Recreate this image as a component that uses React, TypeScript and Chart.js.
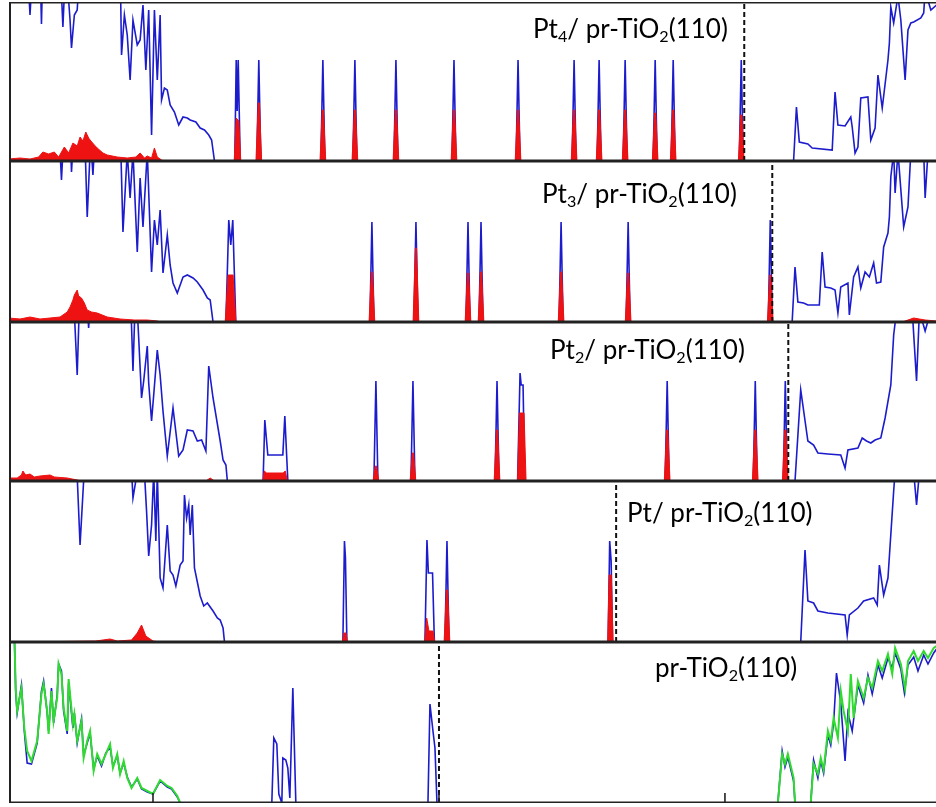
import React, { useEffect, useRef } from "react";
import { Chart, registerables } from "chart.js";

Chart.register(...registerables);

// ---------- axis ----------
const X_MIN = -3.007;
const X_MAX = 3.476;
const X_TICKS = [-2, 0, 2];

// ---------- Pt4 / pr-TiO2(110) ----------
const PT4_TOTAL_VB = [[-3.01,20],[-2.88,20],[-2.86,14.6],[-2.84,20],[-2.79,20],[-2.78,13.7],[-2.77,20],[-2.65,20],[-2.63,13.4],[-2.61,20],[-2.58,14.1],[-2.57,11.3],[-2.55,14.6],[-2.53,15.1],[-2.51,20],[-2.23,20],[-2.22,10.6],[-2.20,14.6],[-2.18,12.6],[-2.16,8.1],[-2.14,14.1],[-2.11,11.6],[-2.09,12.1],[-2.07,15.6],[-2.05,9.1],[-2.03,15.1],[-2.01,2.6],[-1.99,15.1],[-1.97,8.1],[-1.95,14.6],[-1.94,6.1],[-1.92,7.3],[-1.90,7.1],[-1.88,5.6],[-1.85,4.9],[-1.82,3.6],[-1.79,4.4],[-1.76,4.3],[-1.74,4.1],[-1.70,3.9],[-1.67,3.3],[-1.64,3.1],[-1.61,2.6],[-1.59,2.1],[-1.57,0]];
const PT4_TOTAL_GAP_EXTRA = [[-1.428,0],[-1.418,10.1],[-1.411,5.0],[-1.404,10.1],[-1.390,0]];
const PT4_TOTAL_CB = [[2.47,0],[2.48,0],[2.50,5.4],[2.52,1.9],[2.58,1.7],[2.61,1.3],[2.75,1.1],[2.77,6.9],[2.79,3.6],[2.84,3.5],[2.88,4.4],[2.89,3.4],[2.91,0.8],[2.93,1.4],[2.95,6.3],[3.00,6.4],[3.02,2.1],[3.05,3.3],[3.07,8.6],[3.10,5.3],[3.14,10.1],[3.15,11.8],[3.16,15.4],[3.18,13.8],[3.21,16.5],[3.23,14.1],[3.26,8.1],[3.28,13.1],[3.30,13.8],[3.32,13.9],[3.37,14.3],[3.39,14.8],[3.40,17],[3.44,15.1],[3.48,15.6]];
const PT4_PT_VB = [[-3.01,0.2],[-2.93,0.3],[-2.86,0.2],[-2.80,0.4],[-2.77,0.9],[-2.73,0.7],[-2.69,0.9],[-2.66,0.4],[-2.62,1.4],[-2.59,0.8],[-2.56,1.8],[-2.53,1.5],[-2.51,2.4],[-2.49,2.0],[-2.47,2.9],[-2.45,2.3],[-2.44,2.1],[-2.41,1.6],[-2.39,1.3],[-2.35,0.8],[-2.32,0.6],[-2.25,0.4],[-2.18,0.3],[-2.12,0.4],[-2.09,0.8],[-2.06,0.3],[-2.04,0.5],[-2.01,0.3],[-1.99,1.3],[-1.97,0.4],[-1.94,0.1],[-1.92,0]];
const PT4_PT_GAP_EXTRA = [[-1.432,0],[-1.418,4.3],[-1.400,4.0],[-1.386,0]];
// gap peaks: [energy, total DOS, Pt DOS]
const PT4_GAP_PEAKS = [[-1.260,10.1,5.8],[-0.812,10.1,5.1],[-0.588,10.1,5.1],[-0.301,10.1,5.1],[0.105,10.1,5.1],[0.553,10.1,5.1],[0.945,10.1,5.1],[1.120,10.1,5.1],[1.302,10.1,5.1],[1.512,10.1,4.8],[1.638,10.1,5.1],[2.114,10.1,4.6]];
const PT4_FERMI = 2.135;

// ---------- Pt3 / pr-TiO2(110) ----------
const PT3_TOTAL_VB = [[-3.01,20],[-2.66,20],[-2.64,14.2],[-2.62,20],[-2.58,20],[-2.57,15.0],[-2.55,20],[-2.48,20],[-2.46,10.5],[-2.44,17],[-2.43,17],[-2.42,14.7],[-2.40,20],[-2.23,20],[-2.21,9.0],[-2.18,17],[-2.16,12.4],[-2.14,17],[-2.11,7.0],[-2.09,14.4],[-2.07,9.5],[-2.04,17],[-2.01,5.0],[-1.99,10.2],[-1.97,7.7],[-1.95,11.2],[-1.93,4.9],[-1.90,8.7],[-1.88,5.7],[-1.86,3.9],[-1.83,2.9],[-1.79,4.5],[-1.76,4.7],[-1.72,4.4],[-1.69,4.0],[-1.65,3.2],[-1.62,2.4],[-1.60,2.2],[-1.58,0]];
const PT3_TOTAL_GAP_EXTRA = [[-1.490,0],[-1.470,10.2],[-1.456,7.7],[-1.442,10.2],[-1.421,0]];
const PT3_TOTAL_CB = [[2.46,0],[2.47,0],[2.49,5.5],[2.51,2.0],[2.55,1.9],[2.58,1.7],[2.66,1.7],[2.68,7.0],[2.70,3.5],[2.74,3.4],[2.77,3.2],[2.79,0.9],[2.81,3.5],[2.86,3.9],[2.87,0.7],[2.90,4.5],[2.93,5.5],[2.95,3.4],[2.98,5.0],[3.01,4.5],[3.04,5.9],[3.06,3.9],[3.09,4.0],[3.11,7.5],[3.14,8.9],[3.15,10.5],[3.16,14.5],[3.18,17],[3.19,12.9],[3.21,17],[3.25,9.5],[3.28,11.5],[3.30,17],[3.39,17],[3.40,12.4],[3.42,17],[3.48,17]];
const PT3_PT_VB = [[-3.01,0.4],[-2.93,0.3],[-2.86,0.5],[-2.79,0.3],[-2.72,0.4],[-2.65,0.5],[-2.60,1.0],[-2.58,1.5],[-2.56,2.2],[-2.55,2.7],[-2.53,3.2],[-2.52,2.6],[-2.50,2.4],[-2.48,1.9],[-2.46,1.2],[-2.43,1.0],[-2.39,0.9],[-2.32,0.5],[-2.23,0.3],[-2.13,0.2],[-2.04,0.2],[-1.97,0.1],[-1.95,0]];
const PT3_PT_GAP_EXTRA = [[-1.495,0],[-1.475,4.7],[-1.440,4.7],[-1.420,0]];
const PT3_PT_CB = [[3.24,0],[3.28,0.2],[3.32,0.4],[3.36,0.3],[3.40,0.2],[3.48,0.1]];
const PT3_GAP_PEAKS = [[-0.469,10.0,5.0],[-0.161,10.0,7.4],[0.203,10.0,4.9],[0.294,10.0,5.0],[0.854,10.0,5.0],[1.323,10.0,4.9],[2.317,10.2,4.7]];
const PT3_FERMI = 2.331;

// ---------- Pt2 / pr-TiO2(110) ----------
const PT2_TOTAL_VB = [[-3.01,20],[-2.56,20],[-2.53,10.6],[-2.51,20],[-2.47,20],[-2.45,15.3],[-2.43,20],[-2.16,20],[-2.14,11.0],[-2.12,20],[-2.10,14.3],[-2.08,8.3],[-2.065,10.0],[-2.04,13.5],[-2.03,9.8],[-2.01,6.0],[-1.995,8.6],[-1.97,13.1],[-1.95,10.6],[-1.93,7.0],[-1.90,2.5],[-1.86,7.3],[-1.82,2.5],[-1.79,3.1],[-1.76,5.1],[-1.72,5.0],[-1.69,4.0],[-1.66,4.1],[-1.63,3.0],[-1.61,11.5],[-1.58,8.3],[-1.53,4.0],[-1.51,2.1],[-1.49,1.6],[-1.48,0]];
const PT2_TOTAL_GAP_EXTRA = [[-1.230,0],[-1.218,6.1],[-1.197,2.6],[-1.092,2.6],[-1.078,6.5],[-1.057,0],[0.550,0],[0.567,10.8],[0.575,9.6],[0.588,9.6],[0.600,0]];
const PT2_TOTAL_CB = [[2.48,0],[2.49,0],[2.53,9.1],[2.58,4.0],[2.62,3.6],[2.65,2.8],[2.72,2.7],[2.81,2.6],[2.84,1.3],[2.86,3.1],[2.93,3.3],[2.96,4.3],[2.99,4.0],[3.02,3.8],[3.05,4.1],[3.09,4.3],[3.12,6.3],[3.16,9.6],[3.18,14.6],[3.20,17],[3.31,17],[3.34,10.0],[3.36,17],[3.40,15.0],[3.44,17],[3.48,17]];
const PT2_PT_VB = [[-3.01,0.3],[-2.95,0.3],[-2.92,0.6],[-2.91,1.0],[-2.89,0.6],[-2.86,0.7],[-2.83,0.4],[-2.79,0.5],[-2.72,0.6],[-2.69,0.4],[-2.60,0.3],[-2.53,0.1],[-2.50,0],[-1.63,0],[-1.60,0.3],[-1.57,0]];
const PT2_PT_GAP_EXTRA = [[-1.232,0],[-1.222,1.0],[-1.205,0.8],[-1.090,0.8],[-1.075,1.0],[-1.060,0],[0.549,0],[0.563,6.8],[0.595,6.8],[0.609,0]];
const PT2_GAP_PEAKS = [[-0.441,10.0,1.5],[-0.182,10.0,2.8],[0.406,10.0,5.1],[1.596,10.0,5.1],[2.212,10.0,5.1],[2.422,10.0,5.1]];
const PT2_FERMI = 2.443;

// ---------- Pt / pr-TiO2(110) ----------
const PT1_TOTAL_VB = [[-3.01,20],[-2.54,20],[-2.51,9.7],[-2.47,20],[-2.16,20],[-2.14,14.4],[-2.11,17],[-2.06,17],[-2.045,13.1],[-2.03,8.6],[-2.01,11.7],[-1.995,17],[-1.98,10.1],[-1.97,17],[-1.95,6.4],[-1.93,5.4],[-1.90,11.7],[-1.88,7.1],[-1.86,6.7],[-1.84,5.6],[-1.81,7.7],[-1.79,8.1],[-1.78,14.7],[-1.765,12.4],[-1.75,13.7],[-1.74,10.7],[-1.725,13.7],[-1.71,7.4],[-1.67,4.6],[-1.645,3.6],[-1.62,3.9],[-1.58,3.1],[-1.55,2.4],[-1.53,2.2],[-1.51,1.4],[-1.50,0]];
const PT1_TOTAL_GAP_EXTRA = [[-0.672,0],[-0.661,10.1],[-0.654,8.4],[-0.644,0],[-0.098,0],[-0.084,10.2],[-0.074,6.9],[-0.045,6.9],[-0.032,0],[1.183,0],[1.194,10.1],[1.204,8.1],[1.214,0]];
const PT1_TOTAL_CB = [[2.52,0],[2.53,0],[2.56,9.2],[2.58,4.1],[2.62,3.9],[2.65,3.1],[2.72,2.9],[2.84,2.7],[2.855,0.7],[2.87,2.7],[2.93,3.4],[2.97,4.1],[3.04,4.4],[3.065,3.7],[3.08,7.7],[3.11,4.7],[3.14,6.4],[3.18,15.1],[3.19,17],[3.32,17],[3.34,13.7],[3.36,17],[3.48,17]];
const PT1_PT_VB = [[-3.01,0],[-2.65,0.05],[-2.40,0.1],[-2.30,0.3],[-2.25,0.1],[-2.15,0.2],[-2.11,0.9],[-2.08,1.7],[-2.05,0.6],[-2.00,0.1],[-1.95,0]];
const PT1_PT_GAP_EXTRA = [[-0.675,0],[-0.665,0.9],[-0.650,0.9],[-0.640,0],[-0.100,0],[-0.086,2.4],[-0.070,1.1],[-0.042,1.1],[-0.030,0],[1.180,0],[1.190,6.7],[1.205,6.7],[1.218,0]];
const PT1_GAP_PEAKS = [[0.056,10.1,5.2]];
const PT1_FERMI = 1.239;

// ---------- pr-TiO2(110) ----------
const TIO2_BLUE_VB = [[-3.01,15.8],[-2.97,17],[-2.96,11.0],[-2.95,9.0],[-2.92,11.8],[-2.90,7.2],[-2.88,4.0],[-2.85,3.9],[-2.81,6.0],[-2.78,11.2],[-2.765,12.2],[-2.74,9.0],[-2.73,7.2],[-2.71,11.5],[-2.695,8.0],[-2.67,10.8],[-2.66,13.9],[-2.64,13.2],[-2.625,9.2],[-2.60,6.9],[-2.59,12.0],[-2.56,7.5],[-2.55,9.0],[-2.53,6.0],[-2.50,8.4],[-2.485,4.8],[-2.46,6.0],[-2.44,7.0],[-2.415,3.4],[-2.39,4.7],[-2.36,3.7],[-2.33,5.0],[-2.30,5.6],[-2.28,3.7],[-2.25,4.7],[-2.23,3.0],[-2.205,4.0],[-2.18,2.6],[-2.15,1.6],[-2.11,2.4],[-2.08,1.4],[-2.04,1.1],[-2.00,0.9],[-1.95,2.2],[-1.90,1.6],[-1.87,1.4],[-1.83,0.6],[-1.81,0]];
const TIO2_BLUE_GAP = [[-1.169,0],[-1.155,6.5],[-1.134,5.9],[-1.120,0.9],[-1.099,0],[-1.092,4.5],[-1.071,4.3],[-1.057,3.5],[-1.043,0.5],[-1.022,11.5],[-1.001,0],[-0.077,0],[-0.063,9.9],[-0.042,7.2],[-0.028,5.5],[-0.014,0]];
const TIO2_BLUE_CB = [[2.37,0],[2.40,5.2],[2.42,3.6],[2.44,4.6],[2.48,2.2],[2.49,0],[2.60,0],[2.62,4.3],[2.65,2.5],[2.67,4.2],[2.69,3.0],[2.72,6.8],[2.74,5.8],[2.76,8.0],[2.78,13.0],[2.81,10.0],[2.84,4.2],[2.86,9.0],[2.89,7.2],[2.93,11.8],[2.97,10.0],[3.00,12.8],[3.03,10.9],[3.07,13.8],[3.10,12.5],[3.14,14.5],[3.17,13.5],[3.19,15.0],[3.23,13.4],[3.255,11.0],[3.28,13.8],[3.32,14.6],[3.35,13.2],[3.39,14.8],[3.42,13.9],[3.46,15.0],[3.48,15.4]];
const TIO2_GREEN_VB = [[-3.01,15.5],[-2.97,17],[-2.96,11.5],[-2.95,9.2],[-2.92,11.5],[-2.90,7.5],[-2.88,5.2],[-2.85,4.2],[-2.81,6.2],[-2.78,10.9],[-2.765,11.9],[-2.74,9.2],[-2.73,6.9],[-2.71,11.2],[-2.695,8.2],[-2.67,10.5],[-2.66,13.9],[-2.64,12.9],[-2.625,9.5],[-2.60,7.2],[-2.59,12.4],[-2.56,7.9],[-2.55,8.9],[-2.53,6.2],[-2.50,8.2],[-2.485,4.5],[-2.46,6.2],[-2.44,7.2],[-2.415,3.2],[-2.39,4.9],[-2.36,3.9],[-2.33,4.9],[-2.30,5.9],[-2.28,3.5],[-2.25,4.9],[-2.23,2.9],[-2.205,4.2],[-2.18,2.5],[-2.15,1.5],[-2.11,2.5],[-2.08,1.5],[-2.04,1.2],[-2.00,0.9],[-1.95,2.3],[-1.90,1.7],[-1.87,1.5],[-1.83,0.7],[-1.81,0]];
const TIO2_GREEN_CB = [[2.37,0],[2.40,4.9],[2.42,3.9],[2.44,4.9],[2.48,2.5],[2.49,0],[2.60,0],[2.62,3.9],[2.65,2.9],[2.67,4.5],[2.69,3.3],[2.72,7.2],[2.74,6.2],[2.76,8.5],[2.79,6.5],[2.81,11.2],[2.83,9.2],[2.86,7.2],[2.88,12.9],[2.90,8.5],[2.93,12.2],[2.97,10.5],[3.00,12.5],[3.03,11.5],[3.07,14.2],[3.10,13.2],[3.14,14.9],[3.17,12.9],[3.19,15.5],[3.23,13.9],[3.26,11.4],[3.28,14.2],[3.32,15.2],[3.35,14.2],[3.39,15.2],[3.42,14.5],[3.46,15.5],[3.48,15.7]];
const TIO2_FERMI = 0;

// ---------- layout / style ----------
const PANEL_TOPS = [2, 161, 322, 481, 642];
const PANEL_HEIGHTS = [159, 161, 159, 161, 161];
const CANVAS_LEFT = 9;
const CANVAS_WIDTH = 927;
const BLUE = "rgb(28,28,205)";
const RED = "rgb(238,18,18)";
const GREEN = "rgb(48,218,48)";
const FRAME = "#222";
const LABEL_FONT = "Lato, 'Open Sans', sans-serif";

type Pt = { x: number; y: number };
const toPts = (arr: number[][]): Pt[] => arr.map((a) => ({ x: a[0], y: a[1] }));
const peakTotal = (peaks: number[][]): Pt[] =>
  peaks.flatMap((p) => [{ x: p[0] - 0.014, y: 0 }, { x: p[0], y: p[1] }, { x: p[0] + 0.014, y: 0 }]);
const peakPt = (peaks: number[][]): Pt[] =>
  peaks.flatMap((p) => [
    { x: p[0] - 0.02, y: 0 },
    { x: p[0] - 0.004, y: p[2] },
    { x: p[0] + 0.004, y: p[2] },
    { x: p[0] + 0.02, y: 0 },
  ]);
const merge = (...parts: Pt[][]): Pt[] => parts.flat().sort((a, b) => a.x - b.x);

type PanelDef = {
  total: Pt[];
  pt?: Pt[];
  green?: Pt[];
  fermi: number;
  label: React.ReactNode;
  labelLeft: number;
  labelTop: number;
};

const Sub = ({ c }: { c: string }) => (
  <span style={{ fontSize: "0.62em", position: "relative", top: "0.22em" }}>{c}</span>
);

const PANELS: PanelDef[] = [
  {
    total: merge(toPts(PT4_TOTAL_VB), toPts(PT4_TOTAL_GAP_EXTRA), peakTotal(PT4_GAP_PEAKS), toPts(PT4_TOTAL_CB)),
    pt: merge(toPts(PT4_PT_VB), toPts(PT4_PT_GAP_EXTRA), peakPt(PT4_GAP_PEAKS)),
    fermi: PT4_FERMI,
    label: (<>Pt<Sub c="4" />/ pr-TiO<Sub c="2" />(110)</>),
    labelLeft: 533,
    labelTop: 15,
  },
  {
    total: merge(toPts(PT3_TOTAL_VB), toPts(PT3_TOTAL_GAP_EXTRA), peakTotal(PT3_GAP_PEAKS), toPts(PT3_TOTAL_CB)),
    pt: merge(toPts(PT3_PT_VB), toPts(PT3_PT_GAP_EXTRA), peakPt(PT3_GAP_PEAKS), toPts(PT3_PT_CB)),
    fermi: PT3_FERMI,
    label: (<>Pt<Sub c="3" />/ pr-TiO<Sub c="2" />(110)</>),
    labelLeft: 542,
    labelTop: 180,
  },
  {
    total: merge(toPts(PT2_TOTAL_VB), toPts(PT2_TOTAL_GAP_EXTRA), peakTotal(PT2_GAP_PEAKS), toPts(PT2_TOTAL_CB)),
    pt: merge(toPts(PT2_PT_VB), toPts(PT2_PT_GAP_EXTRA), peakPt(PT2_GAP_PEAKS)),
    fermi: PT2_FERMI,
    label: (<>Pt<Sub c="2" />/ pr-TiO<Sub c="2" />(110)</>),
    labelLeft: 550,
    labelTop: 336,
  },
  {
    total: merge(toPts(PT1_TOTAL_VB), toPts(PT1_TOTAL_GAP_EXTRA), peakTotal(PT1_GAP_PEAKS), toPts(PT1_TOTAL_CB)),
    pt: merge(toPts(PT1_PT_VB), toPts(PT1_PT_GAP_EXTRA), peakPt(PT1_GAP_PEAKS)),
    fermi: PT1_FERMI,
    label: (<>Pt/ pr-TiO<Sub c="2" />(110)</>),
    labelLeft: 627,
    labelTop: 499,
  },
  {
    total: merge(toPts(TIO2_BLUE_VB), toPts(TIO2_BLUE_GAP), toPts(TIO2_BLUE_CB)),
    green: merge(toPts(TIO2_GREEN_VB), toPts(TIO2_GREEN_CB)),
    fermi: TIO2_FERMI,
    label: (<>pr-TiO<Sub c="2" />(110)</>),
    labelLeft: 655,
    labelTop: 654,
  },
];

const framePlugin = {
  id: "frame",
  afterDatasetsDraw(chart: any, _args: any, opts: any) {
    const { ctx, chartArea: a } = chart;
    ctx.save();
    ctx.strokeStyle = FRAME;
    ctx.lineWidth = 1.6;
    ctx.beginPath();
    ctx.moveTo(a.left, a.top + 0.8);
    ctx.lineTo(a.right, a.top + 0.8);
    ctx.moveTo(a.left, a.bottom - 0.8);
    ctx.lineTo(a.right, a.bottom - 0.8);
    ctx.stroke();
    ctx.lineWidth = 2;
    ctx.beginPath();
    ctx.moveTo(a.left + 1, a.top);
    ctx.lineTo(a.left + 1, a.bottom);
    ctx.stroke();
    if (opts && opts.ticks) {
      ctx.lineWidth = 1.6;
      ctx.beginPath();
      for (const t of X_TICKS) {
        const x = chart.scales.x.getPixelForValue(t);
        ctx.moveTo(x, a.bottom);
        ctx.lineTo(x, a.bottom - 10);
      }
      ctx.stroke();
    }
    ctx.restore();
  },
};

function Panel({ def, index }: { def: PanelDef; index: number }) {
  const ref = useRef<HTMLCanvasElement>(null);
  const height = PANEL_HEIGHTS[index];
  const yMax = height / 10;
  useEffect(() => {
    const datasets: any[] = [
      {
        data: [{ x: def.fermi, y: 0 }, { x: def.fermi, y: yMax }],
        borderColor: "#111",
        borderWidth: 2,
        borderDash: [5, 3],
        fill: false,
        order: 0,
      },
    ];
    if (def.pt) {
      datasets.push({
        data: def.pt,
        borderColor: RED,
        backgroundColor: RED,
        borderWidth: 1,
        fill: "origin",
        order: 1,
      });
    }
    if (def.green) {
      datasets.push({ data: def.green, borderColor: GREEN, borderWidth: 2, fill: false, order: 2 });
    }
    datasets.push({ data: def.total, borderColor: BLUE, borderWidth: 1.6, fill: false, order: 3 });

    const chart = new Chart(ref.current as HTMLCanvasElement, {
      type: "line",
      data: { datasets },
      options: {
        animation: false,
        responsive: false,
        devicePixelRatio: 1,
        events: [],
        layout: { padding: 0 },
        elements: { point: { radius: 0 }, line: { tension: 0 } },
        plugins: {
          legend: { display: false },
          tooltip: { enabled: false },
          title: { display: false },
          frame: { ticks: index === PANELS.length - 1 },
        } as any,
        scales: {
          x: { type: "linear", min: X_MIN, max: X_MAX, display: false },
          y: { min: 0, max: yMax, display: false },
        },
      },
      plugins: [framePlugin],
    });
    return () => chart.destroy();
  }, []);
  return (
    <canvas
      ref={ref}
      width={CANVAS_WIDTH}
      height={height}
      style={{ position: "absolute", left: CANVAS_LEFT, top: PANEL_TOPS[index], width: CANVAS_WIDTH, height }}
    />
  );
}

export default function App() {
  return (
    <div style={{ position: "absolute", left: 0, top: 0, width: 936, height: 807, background: "#fff", overflow: "hidden" }}>
      {PANELS.map((p, i) => (
        <Panel key={i} def={p} index={i} />
      ))}
      {PANELS.map((p, i) => (
        <div
          key={"l" + i}
          style={{
            position: "absolute",
            left: p.labelLeft,
            top: p.labelTop,
            fontFamily: LABEL_FONT,
            fontSize: 26,
            lineHeight: "26px",
            color: "#000",
            whiteSpace: "nowrap",
          }}
        >
          {p.label}
        </div>
      ))}
    </div>
  );
}
